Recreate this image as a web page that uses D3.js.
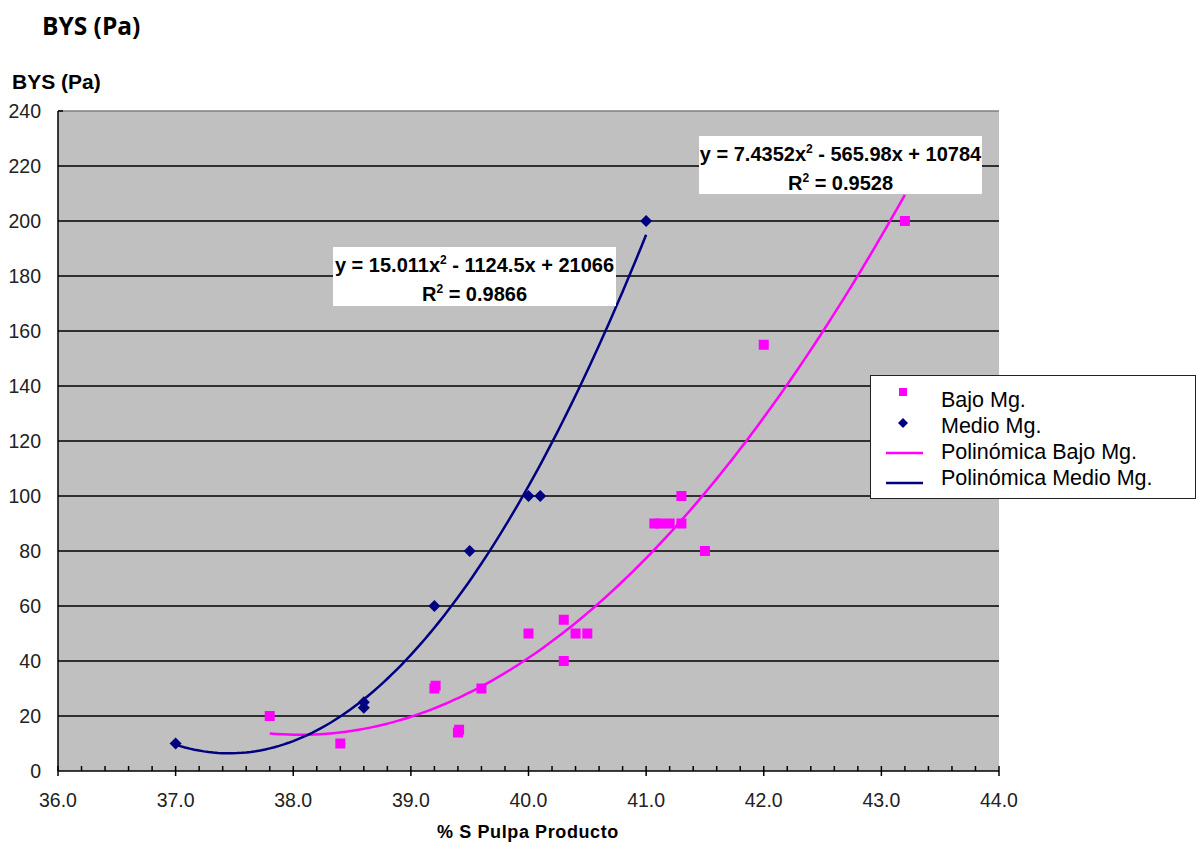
<!DOCTYPE html>
<html><head><meta charset="utf-8">
<script src="https://cdn.jsdelivr.net/npm/d3@7"></script>
<style>
body{margin:0;background:#fff;}
svg{display:block;}
</style></head>
<body>
<svg id="chart" width="1197" height="844"></svg>
<script>
// ---- data ----
const bajoX = [37.8, 38.4, 39.2, 39.21, 39.4, 39.41, 39.6, 40.0, 40.3, 40.3, 40.4, 40.5, 41.07, 41.12, 41.2, 41.3, 41.3, 41.5, 42.0, 43.2];
const bajoY = [20, 10, 30, 31, 14, 15, 30, 50, 55, 40, 50, 50, 90, 90, 90, 90, 100, 80, 155, 200];
const medioX = [37.0, 38.6, 38.6, 39.2, 39.5, 40.0, 40.1, 41.0];
const medioY = [10, 25, 23, 60, 80, 100, 100, 200];
const bajoCoef = [7.4352, -565.98, 10784];   // a, b, c
const medioCoef = [15.011, -1124.5, 21066];
const bajoR2 = "0.9528";
const medioR2 = "0.9866";
const xTicks = [36, 37, 38, 39, 40, 41, 42, 43, 44];
const yTicks = [0, 20, 40, 60, 80, 100, 120, 140, 160, 180, 200, 220, 240];
const legendLabels = ["Bajo Mg.", "Medio Mg.", "Polinómica Bajo Mg.", "Polinómica Medio Mg."];

const MAG = "#FF00FF", NAVY = "#000080";
const svg = d3.select("#chart");
const L = 58, R = 999, T = 111, B = 771;
const x = d3.scaleLinear().domain([36, 44]).range([L, R]);
const y = d3.scaleLinear().domain([0, 240]).range([B, T]);
const FONT = "'Liberation Sans', Arial, sans-serif";

// titles
svg.append("text").attr("x", 42).attr("y", 35).attr("font-family", "'Open Sans', sans-serif")
  .attr("font-weight", "bold").attr("font-size", 24.5).text("BYS (Pa)");
svg.append("text").attr("x", 12).attr("y", 89).attr("font-family", FONT)
  .attr("font-weight", "bold").attr("font-size", 21).text("BYS (Pa)");

// plot area
svg.append("rect").attr("x", L).attr("y", T).attr("width", R - L).attr("height", B - T).attr("fill", "#C0C0C0");
svg.append("line").attr("x1", L).attr("x2", R).attr("y1", T).attr("y2", T).attr("stroke", "#808080").attr("stroke-width", 1.5);

// gridlines
svg.append("g").selectAll("line").data(yTicks.filter(d => d > 0 && d < 240)).join("line")
  .attr("x1", L).attr("x2", R).attr("y1", d => y(d)).attr("y2", d => y(d))
  .attr("stroke", "#000").attr("stroke-width", 1.5);

// y axis labels
svg.append("g").selectAll("text").data(yTicks).join("text")
  .attr("x", 41).attr("y", d => y(d) + 7).attr("text-anchor", "end")
  .attr("font-family", FONT).attr("font-size", 19.5).attr("fill", "#222").text(d => d);

// axes lines
svg.append("line").attr("x1", L).attr("x2", L).attr("y1", T).attr("y2", B).attr("stroke", "#000").attr("stroke-width", 1.5);
svg.append("line").attr("x1", L).attr("x2", L + 5).attr("y1", T).attr("y2", T).attr("stroke", "#000").attr("stroke-width", 1.5);
svg.append("line").attr("x1", L).attr("x2", R).attr("y1", B).attr("y2", B).attr("stroke", "#000").attr("stroke-width", 1.5);

// x ticks
const minor = d3.range(36, 44.001, 0.2).filter(v => Math.abs(v - Math.round(v)) > 0.01);
svg.append("g").selectAll("line").data(minor).join("line")
  .attr("x1", d => x(d)).attr("x2", d => x(d)).attr("y1", B - 5).attr("y2", B)
  .attr("stroke", "#000").attr("stroke-width", 1.5);
svg.append("g").selectAll("line").data(xTicks).join("line")
  .attr("x1", d => x(d)).attr("x2", d => x(d)).attr("y1", B - 5).attr("y2", B + 5)
  .attr("stroke", "#000").attr("stroke-width", 1.5);
svg.append("g").selectAll("text").data(xTicks).join("text")
  .attr("x", d => x(d)).attr("y", 807).attr("text-anchor", "middle")
  .attr("font-family", FONT).attr("font-size", 19.5).attr("fill", "#222").text(d => d.toFixed(1));

svg.append("text").attr("x", 528).attr("y", 838).attr("text-anchor", "middle")
  .attr("font-family", FONT).attr("font-weight", "bold").attr("font-size", 18)
  .attr("letter-spacing", 0.6).text("% S Pulpa Producto");

// trendlines
function poly(c) { return v => c[0] * v * v + c[1] * v + c[2]; }
svg.append("clipPath").attr("id", "pc").append("rect").attr("x", L).attr("y", T).attr("width", R - L).attr("height", B - T);
const gLines = svg.append("g").attr("clip-path", "url(#pc)");
function trendG(xs, c, color) {
  const f = poly(c);
  const [a, b] = d3.extent(xs);
  const pts = d3.range(0, 101).map(i => a + (b - a) * i / 100).map(v => [v, f(v)]);
  gLines.append("path").datum(pts)
    .attr("d", d3.line().x(d => x(d[0])).y(d => y(d[1])))
    .attr("fill", "none").attr("stroke", color).attr("stroke-width", 2.5);
}
trendG(bajoX, bajoCoef, MAG);
trendG(medioX, medioCoef, NAVY);

// markers
const sq = d3.symbol().type(d3.symbolSquare).size(100);
const diamond = r => `M0,${-r}L${r},0L0,${r}L${-r},0Z`;
svg.append("g").selectAll("path").data(bajoX.map((v, i) => [v, bajoY[i]])).join("path")
  .attr("d", sq).attr("transform", d => `translate(${x(d[0])},${y(d[1])})`).attr("fill", MAG);
svg.append("g").selectAll("path").data(medioX.map((v, i) => [v, medioY[i]])).join("path")
  .attr("d", diamond(6)).attr("transform", d => `translate(${x(d[0])},${y(d[1])})`).attr("fill", NAVY);

// equation labels
function eqBox(bx, by, bw, bh, c, r2) {
  svg.append("rect").attr("x", bx).attr("y", by).attr("width", bw).attr("height", bh).attr("fill", "#fff");
  const cx = bx + bw / 2;
  const fmt = v => String(Math.abs(v));
  const t1 = svg.append("text").attr("x", cx).attr("y", by + 25).attr("text-anchor", "middle")
    .attr("font-family", FONT).attr("font-weight", "bold").attr("font-size", 20);
  t1.append("tspan").text(`y = ${fmt(c[0])}x`);
  t1.append("tspan").attr("font-size", 12).attr("dy", -8).text("2");
  t1.append("tspan").attr("dy", 8).text(` ${c[1] < 0 ? "-" : "+"} ${fmt(c[1])}x ${c[2] < 0 ? "-" : "+"} ${fmt(c[2])}`);
  const t2 = svg.append("text").attr("x", cx).attr("y", by + 54).attr("text-anchor", "middle")
    .attr("font-family", FONT).attr("font-weight", "bold").attr("font-size", 20);
  t2.append("tspan").text("R");
  t2.append("tspan").attr("font-size", 12).attr("dy", -8).text("2");
  t2.append("tspan").attr("dy", 8).text(` = ${r2}`);
}
eqBox(333, 247, 283, 59, medioCoef, medioR2);
eqBox(699, 136, 283, 58, bajoCoef, bajoR2);

// legend
const lg = svg.append("g");
lg.append("rect").attr("x", 870.5).attr("y", 375.5).attr("width", 325).attr("height", 123)
  .attr("fill", "#fff").attr("stroke", "#222").attr("stroke-width", 1);
const rowsY = [407, 433, 459, 485];
lg.selectAll("text").data(legendLabels).join("text")
  .attr("x", 941).attr("y", (d, i) => rowsY[i]).attr("font-family", FONT).attr("font-size", 21.5).text(d => d);
lg.append("path").attr("d", d3.symbol().type(d3.symbolSquare).size(64)).attr("transform", "translate(903,392)").attr("fill", MAG);
lg.append("path").attr("d", diamond(5)).attr("transform", "translate(903,423)").attr("fill", NAVY);
lg.append("line").attr("x1", 886).attr("x2", 923).attr("y1", 453).attr("y2", 453).attr("stroke", MAG).attr("stroke-width", 2.5);
lg.append("line").attr("x1", 886).attr("x2", 923).attr("y1", 483).attr("y2", 483).attr("stroke", NAVY).attr("stroke-width", 2.5);
</script>
</body></html>
